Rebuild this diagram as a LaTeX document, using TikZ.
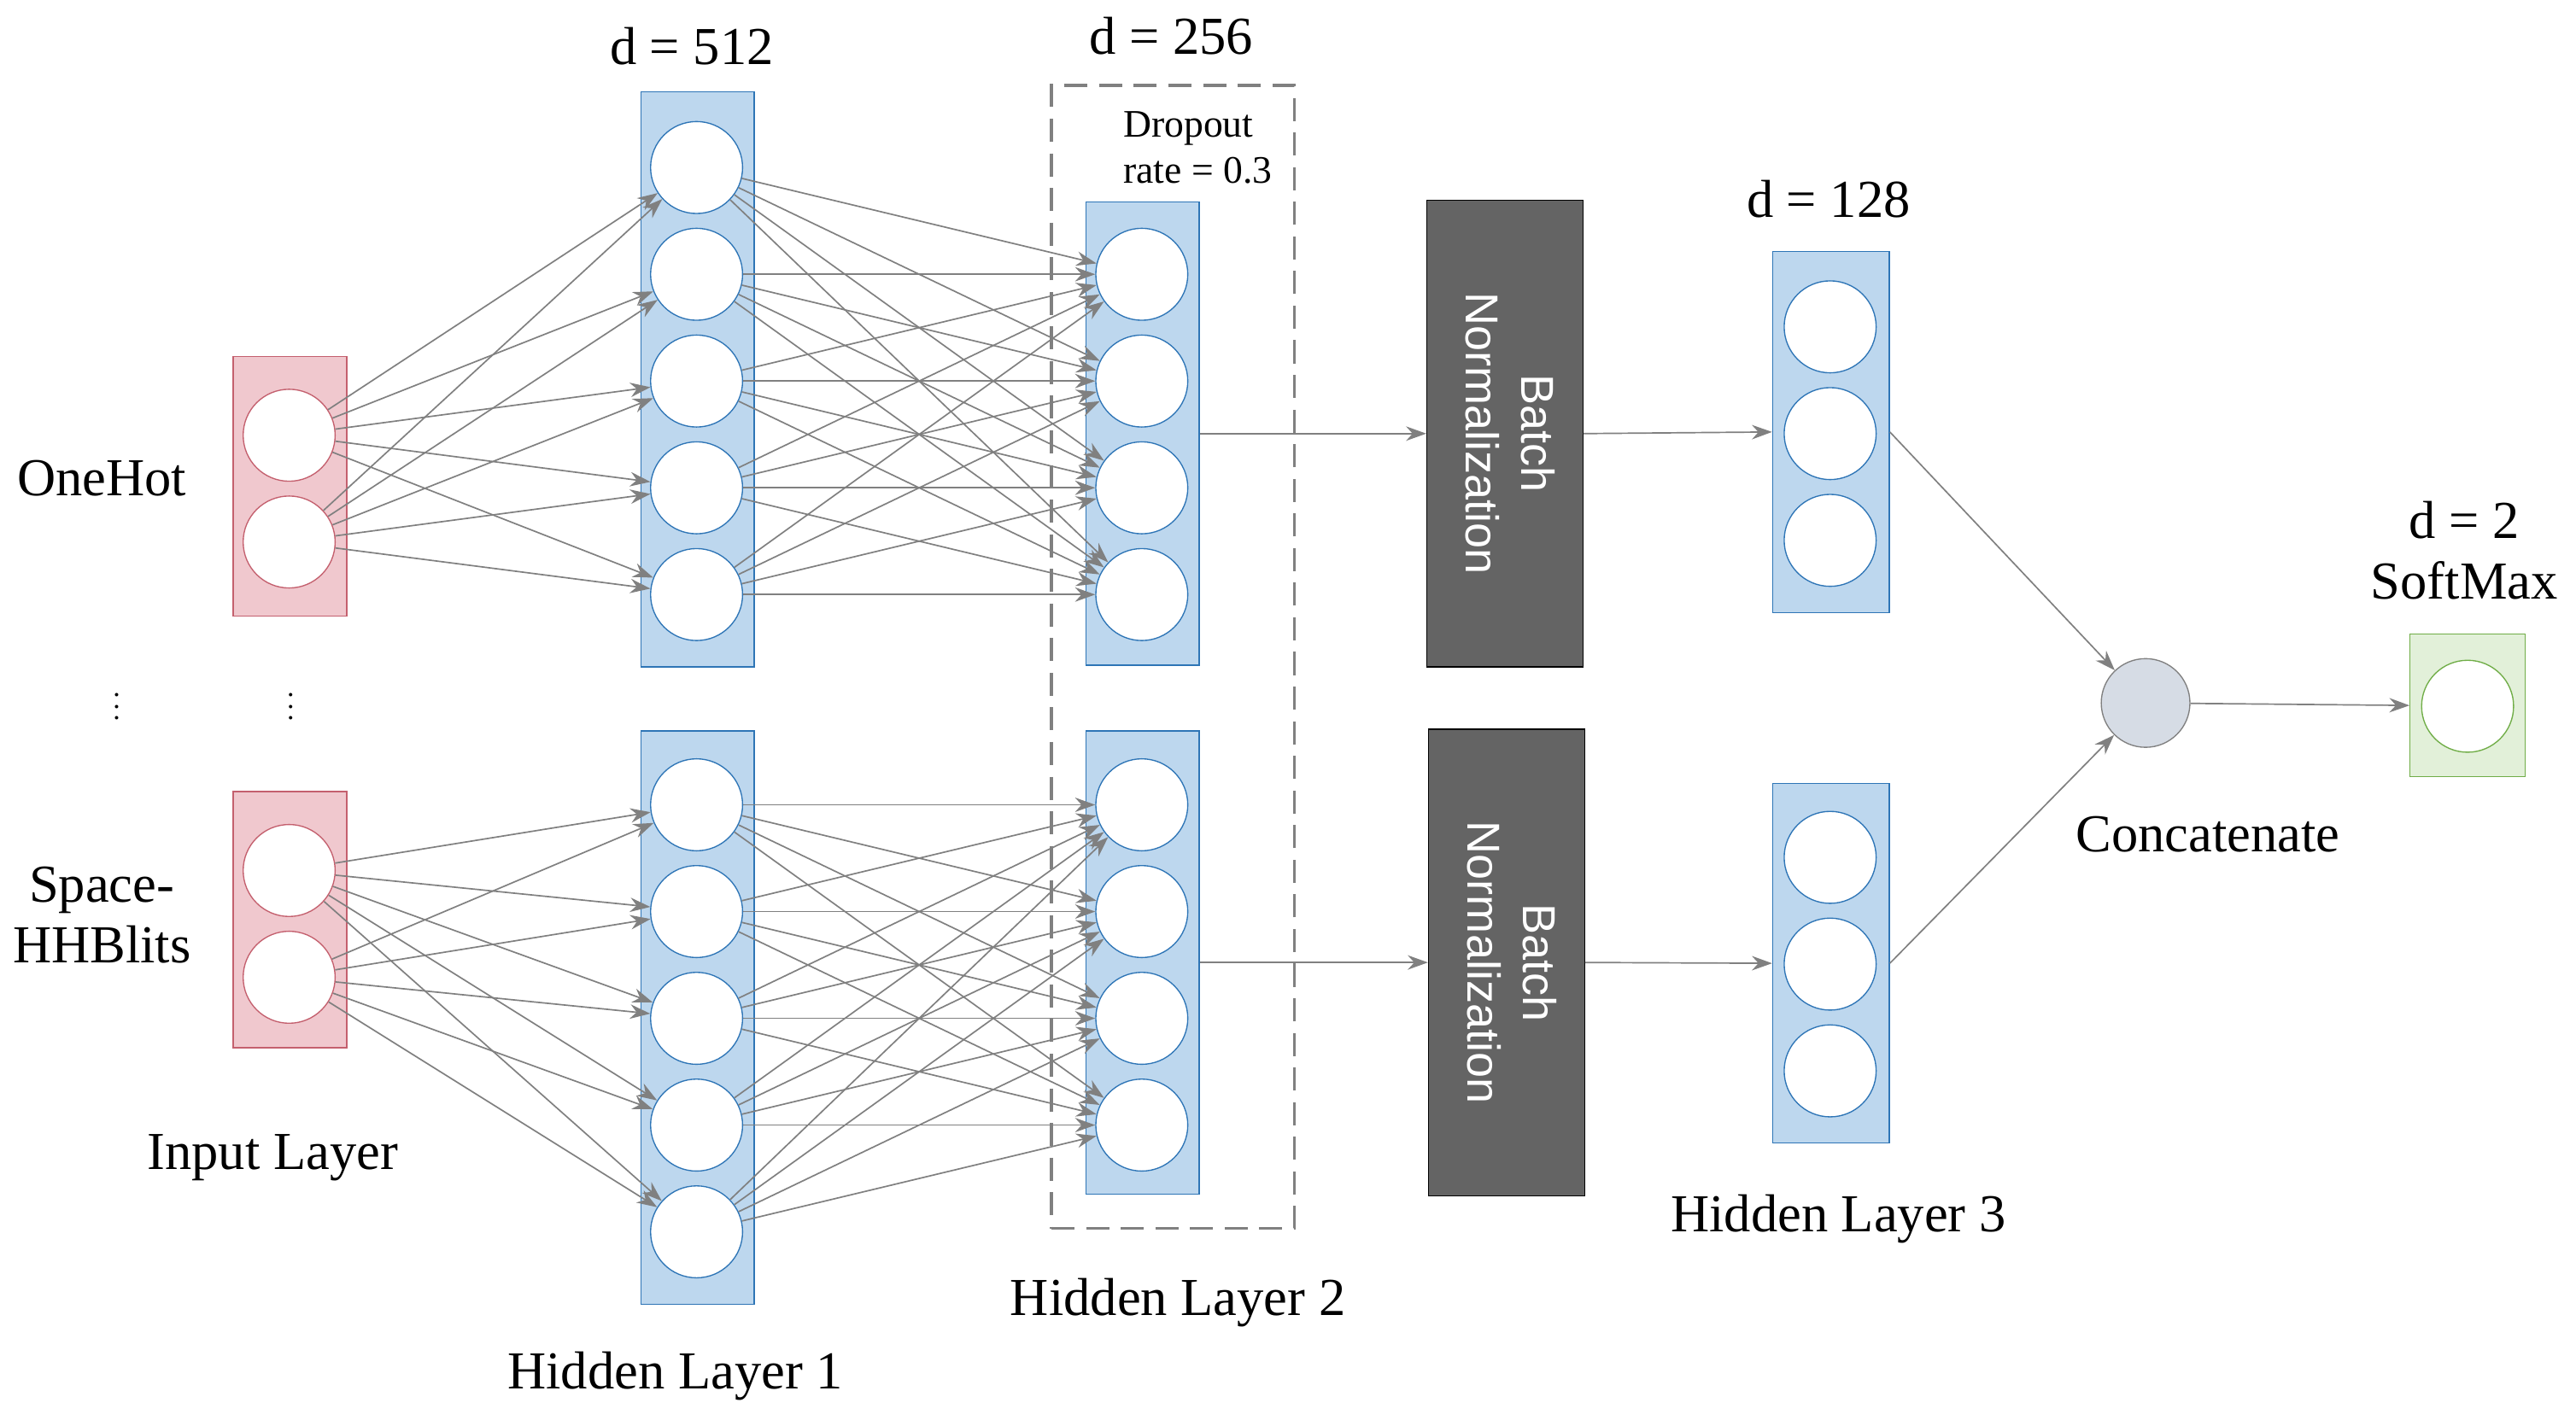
\documentclass[tikz,border=0pt]{standalone}
\usepackage{fontspec}
\setmainfont{Liberation Serif}
\newfontfamily\bnfont{Liberation Sans}
\usetikzlibrary{arrows.meta,positioning,calc}
\definecolor{inpink}{RGB}{240,200,206}
\definecolor{inedge}{RGB}{196,96,110}
\definecolor{hidblue}{RGB}{189,215,238}
\definecolor{hidedge}{RGB}{46,117,182}
\definecolor{outgreen}{RGB}{226,240,217}
\definecolor{outedge}{RGB}{112,173,71}
\definecolor{bngray}{RGB}{100,100,100}
\definecolor{catgray}{RGB}{214,220,229}

\begin{document}
\begin{tikzpicture}[x=0.02cm, y=-0.02cm,
    neuron/.style={circle, draw=hidedge, fill=white, minimum size=1.12cm, inner sep=0pt},
    layer/.style={rectangle, draw=hidedge, fill=hidblue, minimum width=1.38cm},
    inlayer/.style={rectangle, draw=inedge, fill=inpink, minimum width=1.38cm},
    bnorm/.style={rectangle, draw=black, fill=bngray, minimum width=1.9cm, minimum height=5.68cm,
        text=white, font=\bnfont\fontsize{16}{19}\selectfont, align=center},
    conn/.style={-{Stealth[length=7pt,width=5pt]}, draw=gray, line width=0.5pt},
    label/.style={font=\fontsize{18.5}{21}\selectfont, align=center}]

    \useasboundingbox (0,0) rectangle (1568,868);

    % Dropout box
    \node [rectangle, draw=gray, dash pattern=on 8pt off 4pt, line width=1pt, minimum width=2.96cm, minimum height=13.92cm] (dropout) at (714,400) {};

    % Layers (a = upper branch, b = lower branch)
    \node [inlayer, minimum height=3.16cm] (in_a) at (176.5,296) {};
    \node [inlayer, minimum height=3.12cm] (in_b) at (176.5,560) {};
    \node [layer, minimum height=7.0cm] (h1_a) at (424.5,231) {};
    \node [layer, minimum height=6.98cm] (h1_b) at (424.5,619.5) {};
    \node [layer, minimum height=5.64cm] (h2_a) at (695.5,264) {};
    \node [layer, minimum height=5.64cm] (h2_b) at (695.5,586) {};
    \node [layer, minimum width=1.42cm, minimum height=4.4cm] (h3_a) at (1114.5,263) {};
    \node [layer, minimum width=1.42cm, minimum height=4.38cm] (h3_b) at (1114.5,586.5) {};
    \node [rectangle, draw=outedge, fill=outgreen, minimum width=1.4cm, minimum height=1.74cm] (soft) at (1502,429.5) {};

    % Neurons
    \foreach \g/\o in {a/0, b/265} {
        \foreach \i/\y in {1/265, 2/330}
            \node [neuron, draw=inedge] (in_\g_\i) at (176,\y+\o) {};
    }
    \foreach \g/\o in {a/0, b/388} {
        \foreach \i/\y in {1/102, 2/167, 3/232, 4/297, 5/362}
            \node [neuron] (h1_\g_\i) at (424,\y+\o) {};
    }
    \foreach \g/\o in {a/0, b/323} {
        \foreach \i/\y in {1/167, 2/232, 3/297, 4/362}
            \node [neuron] (h2_\g_\i) at (695,\y+\o) {};
    }
    \foreach \g/\o in {a/0, b/323} {
        \foreach \i/\y in {1/199, 2/264, 3/329}
            \node [neuron] (h3_\g_\i) at (1114,\y+\o) {};
    }
    \node [neuron, draw=outedge] (out) at (1502,430) {};
    \node [circle, draw=gray, fill=catgray, minimum size=1.08cm] (concat) at (1306,428) {};

    % Batch normalization
    \node [bnorm] (bn_a) at (916,264) {\rotatebox{-90}{\begin{tabular}{c}Batch\\Normalization\end{tabular}}};
    \node [bnorm] (bn_b) at (917,586) {\rotatebox{-90}{\begin{tabular}{c}Batch\\Normalization\end{tabular}}};

    % Dense connections
    \foreach \g in {a,b} {
        \foreach \i in {1,2}
            \foreach \j in {1,...,5}
                \draw [conn] (in_\g_\i) -- (h1_\g_\j);
        \foreach \i in {1,...,5}
            \foreach \j in {1,...,4}
                \draw [conn] (h1_\g_\i) -- (h2_\g_\j);
        \draw [conn] (h2_\g.east) -- (bn_\g.west);
        \draw [conn] (bn_\g.east) -- (h3_\g.west);
        \draw [conn] (h3_\g.east) -- (concat);
    }
    \draw [conn] (concat) -- (soft.west);

    % Labels
    \node [label] (d512) at (421,28) {d = 512};
    \node [label] (d256) at (713,22) {d = 256};
    \node [font=\fontsize{13.5}{16}\selectfont, align=left] (drop_rate) at (729,90) {Dropout\\rate = 0.3};
    \node [label] (d128) at (1113,121) {d = 128};
    \node [label, align=center] (d2) at (1500,335) {d = 2\\SoftMax};
    \node [label] (onehot) at (62,291) {OneHot};
    \node [label] (space) at (62,557) {Space-\\HHBlits};
    \node [inner sep=0pt] (dots_a) at (71,425) {$\vdots$};
    \node [inner sep=0pt] (dots_b) at (177,425) {$\vdots$};
    \node [label] (in_label) at (166,705) {Input Layer};
    \node [label] (h1_label) at (411,838) {Hidden Layer 1};
    \node [label] (h2_label) at (717,793) {Hidden Layer 2};
    \node [label] (h3_label) at (1119,742) {Hidden Layer 3};
    \node [label] (cat_label) at (1344,508) {Concatenate};
\end{tikzpicture}
\end{document}
